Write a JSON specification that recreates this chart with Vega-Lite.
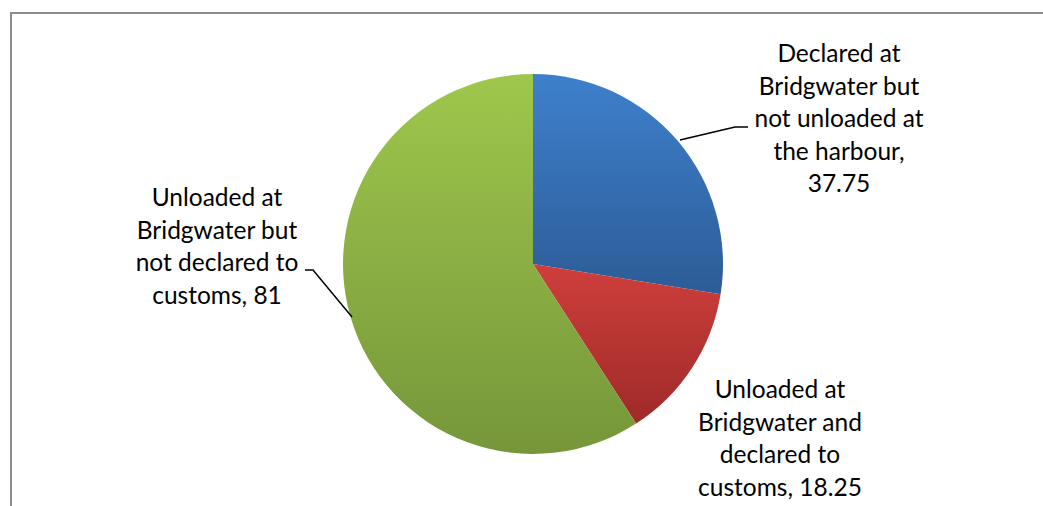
{
  "$schema": "https://vega.github.io/schema/vega-lite/v6.json",
  "width": 1044,
  "height": 502,
  "autosize": {"type": "none"},
  "padding": {"left": 11, "top": 13, "right": 0, "bottom": 0},
  "background": "white",
  "config": {"view": {"stroke": "#8c8c8c", "strokeWidth": 2}},
  "datasets": {
    "slices": [
      {"name": "Declared at Bridgwater but not unloaded at the harbour", "value": 37.75, "order": 1},
      {"name": "Unloaded at Bridgwater and declared to customs", "value": 18.25, "order": 2},
      {"name": "Unloaded at Bridgwater but not declared to customs", "value": 81, "order": 3}
    ],
    "labels": [
      {"label": "Declared at\nBridgwater but\nnot unloaded at\nthe harbour,\n37.75", "x": 306, "y": 202},
      {"label": "Unloaded at\nBridgwater and\ndeclared to\ncustoms, 18.25", "x": 247, "y": -134},
      {"label": "Unloaded at\nBridgwater but\nnot declared to\ncustoms, 81", "x": -316, "y": 58}
    ],
    "leaders": [
      {"series": "blue", "pt": 1, "x": 147, "y": 124},
      {"series": "blue", "pt": 2, "x": 202, "y": 137},
      {"series": "blue", "pt": 3, "x": 215, "y": 137},
      {"series": "green", "pt": 1, "x": -228, "y": -6},
      {"series": "green", "pt": 2, "x": -220, "y": -6},
      {"series": "green", "pt": 3, "x": -181, "y": -53}
    ]
  },
  "layer": [
    {
      "data": {"name": "slices"},
      "mark": {"type": "arc", "outerRadius": 190, "strokeWidth": 0},
      "encoding": {
        "theta": {"field": "value", "type": "quantitative", "stack": true},
        "order": {"field": "order", "type": "quantitative"},
        "color": {
          "condition": [
            {"test": "datum.order === 1", "value": {"gradient": "linear", "x1": 0, "y1": 0, "x2": 0, "y2": 1, "stops": [{"offset": 0, "color": "#3E80CD"}, {"offset": 1, "color": "#2C5C96"}]}},
            {"test": "datum.order === 2", "value": {"gradient": "linear", "x1": 0, "y1": 0, "x2": 0, "y2": 1, "stops": [{"offset": 0, "color": "#CF3F3C"}, {"offset": 1, "color": "#9E2A28"}]}}
          ],
          "value": {"gradient": "linear", "x1": 0, "y1": 0, "x2": 0, "y2": 1, "stops": [{"offset": 0, "color": "#9FC74C"}, {"offset": 1, "color": "#76963A"}]}
        }
      }
    },
    {
      "data": {"name": "leaders"},
      "mark": {"type": "line", "color": "black", "strokeWidth": 1.5},
      "encoding": {
        "x": {"field": "x", "type": "quantitative", "scale": {"domain": [-522, 522], "nice": false, "zero": false}, "axis": null},
        "y": {"field": "y", "type": "quantitative", "scale": {"domain": [-251, 251], "nice": false, "zero": false}, "axis": null},
        "detail": {"field": "series"},
        "order": {"field": "pt", "type": "quantitative"}
      }
    },
    {
      "data": {"name": "labels"},
      "mark": {"type": "text", "font": "Lato", "fontSize": 24.5, "lineHeight": 32.5, "align": "center", "baseline": "alphabetic", "lineBreak": "\n", "color": "black"},
      "encoding": {
        "x": {"field": "x", "type": "quantitative", "scale": {"domain": [-522, 522], "nice": false, "zero": false}, "axis": null},
        "y": {"field": "y", "type": "quantitative", "scale": {"domain": [-251, 251], "nice": false, "zero": false}, "axis": null},
        "text": {"field": "label"}
      }
    }
  ]
}
